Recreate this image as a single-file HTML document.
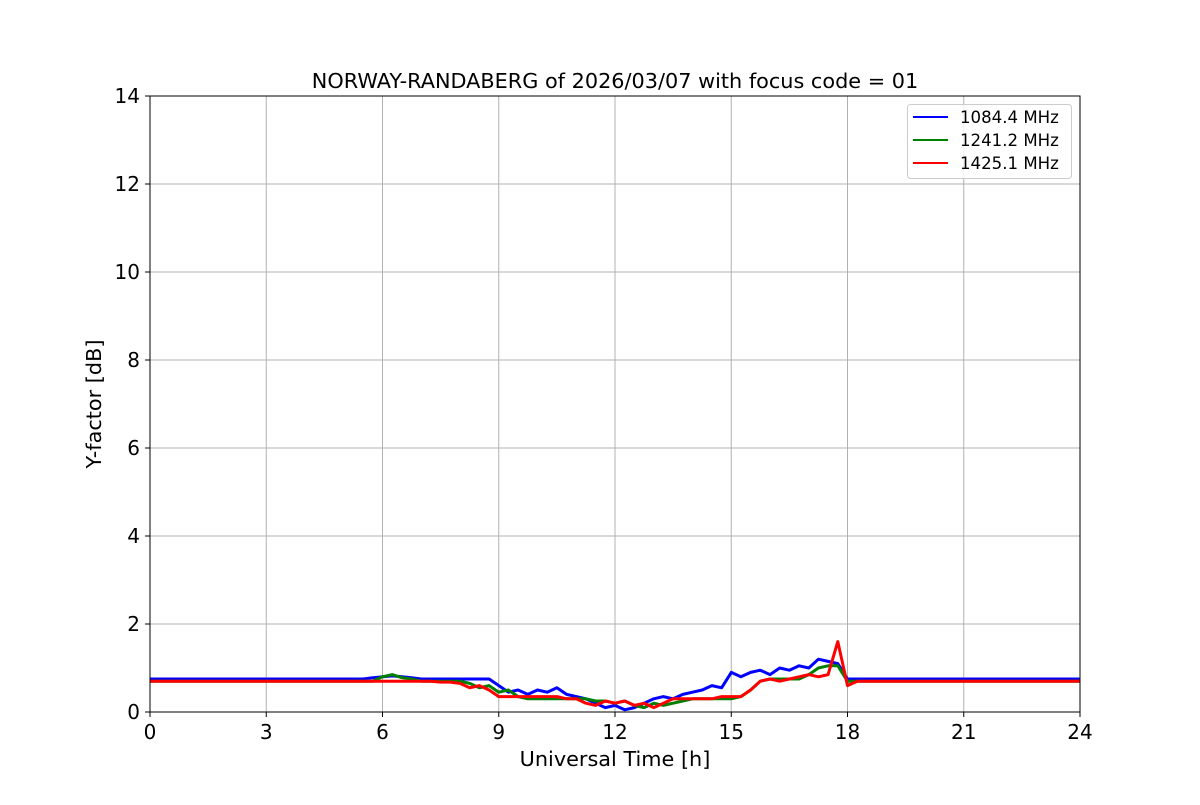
<!DOCTYPE html>
<html><head><meta charset="utf-8"><style>
body{margin:0;background:#fff;}
svg text{font-family:"DejaVu Sans","Liberation Sans",sans-serif;}
</style></head><body>
<svg id="chart" width="1200" height="800" viewBox="0 0 1200 800">
<rect width="1200" height="800" fill="#fff"/>
<g id="grid"></g>
<g id="series"></g>
<rect x="150" y="96" width="930" height="616" fill="none" stroke="#000" stroke-width="1"/>
<g id="ticks"></g>
<text x="615" y="88" text-anchor="middle" font-size="20.8">NORWAY-RANDABERG of 2026/03/07 with focus code = 01</text>
<text x="615" y="766" text-anchor="middle" font-size="20.8">Universal Time [h]</text>
<text transform="translate(101,404) rotate(-90)" text-anchor="middle" font-size="20.8">Y-factor [dB]</text>
<g>
<rect x="907.5" y="104.5" width="164" height="74" rx="3" fill="#fff" fill-opacity="0.8" stroke="#ccc"/>
<g><line x1="913" y1="117" x2="948" y2="117" stroke="#0000ff" stroke-width="2"/><text x="960" y="123" font-size="16.6">1084.4 MHz</text></g>
<g><line x1="913" y1="140" x2="948" y2="140" stroke="#008000" stroke-width="2"/><text x="960" y="146" font-size="16.6">1241.2 MHz</text></g>
<g><line x1="913" y1="163" x2="948" y2="163" stroke="#ff0000" stroke-width="2"/><text x="960" y="169" font-size="16.6">1425.1 MHz</text></g>
</g>
</svg>
<script>
const xTicks=[0,3,6,9,12,15,18,21,24];
const yTicks=[0,2,4,6,8,10,12,14];
const stepHours=0.25;
const blue=[.75,.75,.75,.75,.75,.75,.75,.75,.75,.75,.75,.75,.75,.75,.75,.75,.75,.75,.75,.75,.75,.75,.75,
.78,.8,.82,.8,.78,.75,.75,.75,.75,.75,.75,.75,.75,
.6,.45,.5,.4,.5,.45,.55,.4,.35,.3,.2,.1,.15,.05,.1,.2,.3,.35,.3,.4,.45,.5,.6,.55,.9,.8,.9,.95,.85,1.0,.95,1.05,1.0,1.2,1.15,1.1,
.75,.75,.75,.75,.75,.75,.75,.75,.75,.75,.75,.75,.75,.75,.75,.75,.75,.75,.75,.75,.75,.75,.75,.75,.75];
const green=[.7,.7,.7,.7,.7,.7,.7,.7,.7,.7,.7,.7,.7,.7,.7,.7,.7,.7,.7,.7,.7,.7,.7,.7,
.8,.85,.78,.75,.7,.7,.7,.7,.7,
.65,.55,.6,.45,.5,.35,.3,.3,.3,.3,.3,.3,.3,.25,.25,.2,.25,.15,.1,.2,.15,.2,.25,.3,.3,.3,.3,.3,.35,.5,.7,.75,.75,.75,.75,.85,1.0,1.05,1.05,
.7,.7,.7,.7,.7,.7,.7,.7,.7,.7,.7,.7,.7,.7,.7,.7,.7,.7,.7,.7,.7,.7,.7,.7,.7];
const red=[.7,.7,.7,.7,.7,.7,.7,.7,.7,.7,.7,.7,.7,.7,.7,.7,.7,.7,.7,.7,.7,.7,.7,.7,.7,.7,.7,.7,.7,.7,
.68,.68,.65,.55,.6,.5,.35,.35,.35,.35,.35,.35,.35,.3,.3,.2,.15,.25,.2,.25,.15,.2,.1,.2,.3,.3,.3,.3,.3,.35,.35,.35,.5,.7,.75,.7,.75,.8,.85,.8,.85,1.6,
.6,.7,.7,.7,.7,.7,.7,.7,.7,.7,.7,.7,.7,.7,.7,.7,.7,.7,.7,.7,.7,.7,.7,.7,.7];
const NS='http://www.w3.org/2000/svg';
const X=h=>150+h/24*930;
const Y=v=>712-v/14*616;
const grid=document.getElementById('grid'),ticks=document.getElementById('ticks'),ser=document.getElementById('series');
function mk(t,a,p){const e=document.createElementNS(NS,t);for(const k in a)e.setAttribute(k,a[k]);p.appendChild(e);return e;}
xTicks.forEach(t=>{
 const g=mk('line',{x1:X(t),x2:X(t),y1:96,y2:712,stroke:'#b0b0b0','stroke-width':1},grid);
 
 
 const tk=mk('line',{x1:X(t),x2:X(t),y1:712,y2:717,stroke:'#000'},ticks);
 
 
 const tx=mk('text',{x:X(t),y:739,'text-anchor':'middle','font-size':20},ticks);tx.textContent=t;
 
 
});
yTicks.forEach(t=>{
 const g=mk('line',{x1:150,x2:1080,y1:Y(t),y2:Y(t),stroke:'#b0b0b0','stroke-width':1},grid);
 
 
 const tk=mk('line',{x1:145,x2:150,y1:Y(t),y2:Y(t),stroke:'#000'},ticks);
 
 
 const tx=mk('text',{x:140,y:Y(t)+7,'text-anchor':'end','font-size':20},ticks);tx.textContent=t;
 
 
});
[[blue,'#0000ff','series-1084-mhz'],[green,'#008000','series-1241-mhz'],[red,'#ff0000','series-1425-mhz']].forEach(([d,c,n])=>{
 const pts=d.map((v,i)=>X(i*stepHours).toFixed(1)+','+Y(v).toFixed(1)).join(' ');
 const p=mk('polyline',{points:pts,fill:'none',stroke:c,'stroke-width':3,'stroke-linejoin':'round'},ser);
 
 
});
</script>
</body></html>
